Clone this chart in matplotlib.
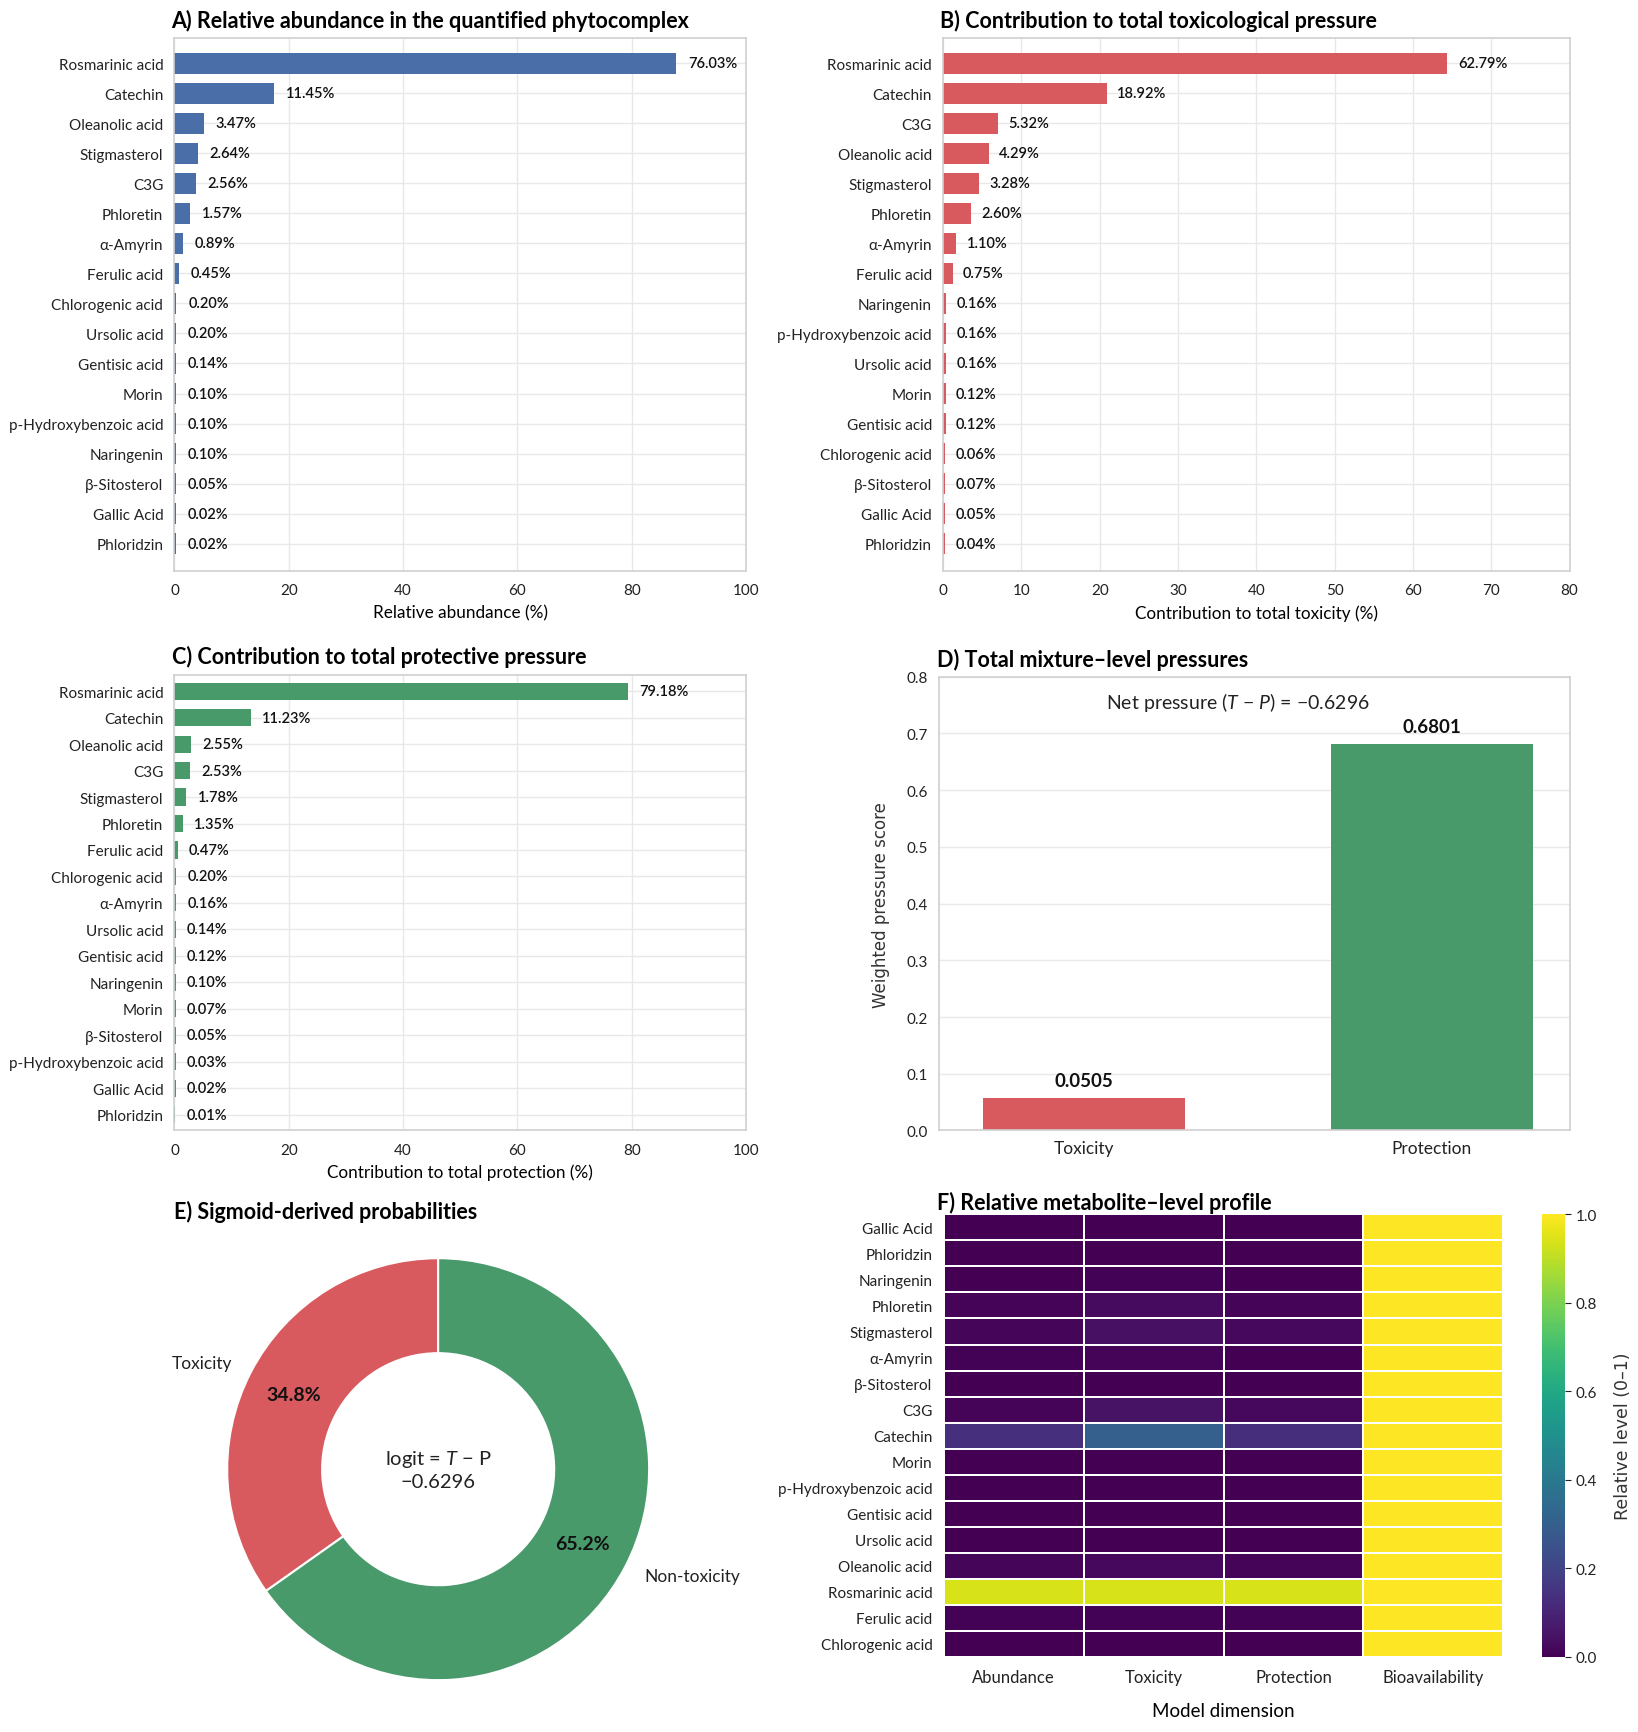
import matplotlib
matplotlib.use("Agg")
import matplotlib.pyplot as plt
import numpy as np

plt.rcParams['font.family'] = ['Lato', 'DejaVu Sans']
plt.rcParams['mathtext.fontset'] = 'custom'
plt.rcParams['mathtext.rm'] = 'Lato'
plt.rcParams['mathtext.it'] = 'Lato:italic'
plt.rcParams['axes.unicode_minus'] = True

# ---- data ----
abund_names = ['Rosmarinic acid', 'Catechin', 'Oleanolic acid', 'Stigmasterol', 'C3G', 'Phloretin',
               'α-Amyrin', 'Ferulic acid', 'Chlorogenic acid', 'Ursolic acid', 'Gentisic acid', 'Morin',
               'p-Hydroxybenzoic acid', 'Naringenin', 'β-Sitosterol', 'Gallic Acid', 'Phloridzin']
abund_bar = [87.8, 17.5, 5.15, 4.06, 3.73, 2.8, 1.54, 0.77, 0.35, 0.32, 0.3, 0.28, 0.28, 0.28, 0.25, 0.22, 0.22]
abund_lab = ['76.03%', '11.45%', '3.47%', '2.64%', '2.56%', '1.57%', '0.89%', '0.45%', '0.20%', '0.20%',
             '0.14%', '0.10%', '0.10%', '0.10%', '0.05%', '0.02%', '0.02%']

tox_names = ['Rosmarinic acid', 'Catechin', 'C3G', 'Oleanolic acid', 'Stigmasterol', 'Phloretin',
             'α-Amyrin', 'Ferulic acid', 'Naringenin', 'p-Hydroxybenzoic acid', 'Ursolic acid', 'Morin',
             'Gentisic acid', 'Chlorogenic acid', 'β-Sitosterol', 'Gallic Acid', 'Phloridzin']
tox_bar = [64.4, 20.9, 7.05, 5.8, 4.6, 3.6, 1.65, 1.2, 0.35, 0.35, 0.35, 0.3, 0.3, 0.25, 0.25, 0.22, 0.2]
tox_lab = ['62.79%', '18.92%', '5.32%', '4.29%', '3.28%', '2.60%', '1.10%', '0.75%', '0.16%', '0.16%',
           '0.16%', '0.12%', '0.12%', '0.06%', '0.07%', '0.05%', '0.04%']

prot_names = ['Rosmarinic acid', 'Catechin', 'Oleanolic acid', 'C3G', 'Stigmasterol', 'Phloretin',
              'Ferulic acid', 'Chlorogenic acid', 'α-Amyrin', 'Ursolic acid', 'Gentisic acid', 'Naringenin',
              'Morin', 'β-Sitosterol', 'p-Hydroxybenzoic acid', 'Gallic Acid', 'Phloridzin']
prot_bar = [79.4, 13.4, 2.9, 2.8, 2.1, 1.5, 0.58, 0.3, 0.28, 0.27, 0.26, 0.25, 0.24, 0.22, 0.2, 0.2, 0.18]
prot_lab = ['79.18%', '11.23%', '2.55%', '2.53%', '1.78%', '1.35%', '0.47%', '0.20%', '0.16%', '0.14%',
            '0.12%', '0.10%', '0.07%', '0.05%', '0.03%', '0.02%', '0.01%']

press_cats = ['Toxicity', 'Protection']
press_vals = [0.0565, 0.681]
press_labs = ['0.0505', '0.6801']
net_pressure = '−0.6296'

donut_labels = ['Toxicity', 'Non-toxicity']
donut_vals = [34.8, 65.2]

heat_rows = ['Gallic Acid', 'Phloridzin', 'Naringenin', 'Phloretin', 'Stigmasterol', 'α-Amyrin',
             'β-Sitosterol', 'C3G', 'Catechin', 'Morin', 'p-Hydroxybenzoic acid', 'Gentisic acid',
             'Ursolic acid', 'Oleanolic acid', 'Rosmarinic acid', 'Ferulic acid', 'Chlorogenic acid']
heat_cols = ['Abundance', 'Toxicity', 'Protection', 'Bioavailability']
heat_abund = [0.0, 0.0, 0.0, 0.01, 0.015, 0.005, 0.0, 0.01, 0.14, 0.0, 0.0, 0.0, 0.0, 0.015, 0.94, 0.005, 0.0]
heat_tox = [0.0, 0.0, 0.005, 0.03, 0.04, 0.01, 0.0, 0.05, 0.30, 0.0, 0.0, 0.0, 0.0, 0.02, 0.94, 0.005, 0.0]
heat_prot = [0.0, 0.0, 0.0, 0.01, 0.02, 0.0, 0.0, 0.02, 0.13, 0.0, 0.0, 0.0, 0.0, 0.01, 0.94, 0.005, 0.0]
heat_bio = [1.0] * 17

BLUE = '#4a6fa8'
RED = '#d95a5e'
GREEN = '#489a6b'
SPINE = '#d0d0d0'
GRID = '#e8e8e8'
TITLE_FS = 15.5

fig = plt.figure(figsize=(16.38, 17.33), dpi=100)


def style_frame(ax):
    for s in ax.spines.values():
        s.set_color(SPINE)
        s.set_linewidth(1.2)
    ax.set_axisbelow(True)
    ax.tick_params(length=0, labelsize=11, colors='#222222')


def hbar_panel(rect, names, vals, labs, color, xmax, xticks, xlabel, title, ylim, bh, pad):
    ax = fig.add_axes(rect)
    y = np.arange(len(names))
    ax.barh(y, vals, height=bh, color=color)
    for yi, v, t in zip(y, vals, labs):
        ax.annotate(t, (v, yi), xytext=(pad, 0), textcoords='offset points',
                    va='center', ha='left', fontsize=10.5, fontweight='semibold', color='#111111')
    ax.set_yticks(y)
    ax.set_yticklabels(names)
    ax.set_ylim(*ylim)
    ax.set_xlim(0, xmax)
    ax.set_xticks(xticks)
    ax.grid(True, color=GRID, linewidth=1)
    style_frame(ax)
    ax.tick_params(axis='y', pad=8)
    ax.tick_params(axis='x', pad=9)
    ax.set_xlabel(xlabel, fontsize=12.3, labelpad=5)
    ax.set_title(title, loc='left', fontsize=TITLE_FS, fontweight='bold', pad=8, x=-0.005)
    return ax


# A
hbar_panel([0.1065, 0.6701, 0.3490, 0.3076], abund_names, abund_bar, abund_lab, BLUE, 100,
           [0, 20, 40, 60, 80, 100], 'Relative abundance (%)',
           'A) Relative abundance in the quantified phytocomplex', (16.9, -0.85), 0.7, 8.5)
# B
hbar_panel([0.5758, 0.6701, 0.3824, 0.3076], tox_names, tox_bar, tox_lab, RED, 80,
           list(range(0, 81, 10)), 'Contribution to total toxicity (%)',
           'B) Contribution to total toxicological pressure', (16.9, -0.85), 0.7, 7.5)
# C
hbar_panel([0.1065, 0.3471, 0.3490, 0.2631], prot_names, prot_bar, prot_lab, GREEN, 100,
           [0, 20, 40, 60, 80, 100], 'Contribution to total protection (%)',
           'C) Contribution to total protective pressure', (16.6, -0.63), 0.65, 8)

# D
axd = fig.add_axes([0.5734, 0.3471, 0.3848, 0.2618])
xd = np.arange(len(press_cats))
axd.bar(xd, press_vals, width=0.58, color=[RED, GREEN])
for xi, v, t in zip(xd, press_vals, press_labs):
    axd.annotate(t, (xi, v), xytext=(0, 7), textcoords='offset points', ha='center', va='bottom',
                 fontsize=13.5, fontweight='bold', color='#111111')
axd.set_xticks(xd)
axd.set_xticklabels(press_cats)
axd.set_xlim(-0.415, 1.395)
axd.set_ylim(0, 0.8)
axd.set_yticks(np.arange(0, 0.81, 0.1))
axd.set_yticklabels(['%.1f' % t for t in np.arange(0, 0.81, 0.1)])
axd.grid(True, axis='y', color=GRID, linewidth=1)
style_frame(axd)
axd.tick_params(axis='y', pad=8)
axd.tick_params(axis='x', pad=7, labelsize=12.5)
axd.set_ylabel('Weighted pressure score', family='DejaVu Sans', fontsize=12, labelpad=12, color='#333333')
axd.text(0.4746, 0.946, 'Net pressure ($T$ − $P$) = ' + net_pressure, transform=axd.transAxes,
         ha='center', va='center', fontsize=14, color='#222222')
axd.set_title('D) Total mixture–level pressures', loc='left', fontsize=TITLE_FS, fontweight='bold', pad=8,
              x=-0.004)

# E
axe = fig.add_axes([0.0743, -0.031, 0.3864, 0.3653])
wedges, texts, autotexts = axe.pie(donut_vals, labels=donut_labels, colors=[RED, GREEN], startangle=90,
                                   counterclock=True, autopct='%.1f%%', pctdistance=0.77,
                                   wedgeprops=dict(width=0.45, edgecolor='white', linewidth=1.5),
                                   textprops=dict(fontsize=12.5, color='#222222'))
for t in autotexts:
    t.set_fontweight('bold')
    t.set_fontsize(14)
    t.set_color('#111111')
axe.text(0, 0, 'logit = $T$ − P\n' + net_pressure, ha='center', va='center', fontsize=14.5,
         color='#222222', linespacing=1.3)
axe.set_xlim(-1.5, 1.5)
axe.set_ylim(-1.5, 1.5)
axe.set_aspect('equal')
fig.text(0.1065, 0.3006, 'E) Sigmoid-derived probabilities', fontsize=TITLE_FS, fontweight='bold',
         ha='left', va='center')

# F
heat = np.column_stack([heat_abund, heat_tox, heat_prot, heat_bio])
axf = fig.add_axes([0.5761, 0.0433, 0.3417, 0.2554])
mesh = axf.pcolormesh(heat, cmap='viridis', vmin=0, vmax=1, edgecolors='white', linewidth=1.2)
axf.set_xlim(0, len(heat_cols))
axf.set_ylim(len(heat_rows), 0)
axf.set_xticks(np.arange(len(heat_cols)) + 0.5)
axf.set_xticklabels(heat_cols)
axf.set_yticks(np.arange(len(heat_rows)) + 0.5)
axf.set_yticklabels(heat_rows)
for s in axf.spines.values():
    s.set_visible(False)
axf.tick_params(length=0, labelsize=11, colors='#222222')
axf.tick_params(axis='x', labelsize=12, pad=9)
axf.tick_params(axis='y', pad=8)
axf.set_xlabel('Model dimension', fontsize=13.5, labelpad=12)
axf.set_title('F) Relative metabolite–level profile', loc='left', fontsize=TITLE_FS, fontweight='bold', pad=4,
              x=-0.012)

cax = fig.add_axes([0.9414, 0.0433, 0.0142, 0.2554])
cb = fig.colorbar(mesh, cax=cax)
cb.outline.set_visible(False)
cb.set_ticks([0, 0.2, 0.4, 0.6, 0.8, 1.0])
cb.ax.tick_params(labelsize=11, length=4, width=0.8, colors='#222222')
cb.ax.set_yticklabels(['0.0', '0.2', '0.4', '0.6', '0.8', '1.0'])
cb.set_label('Relative level (0–1)', family='DejaVu Sans', fontsize=12.5, labelpad=12, color='#333333')

fig.savefig('out.png', dpi=100, facecolor='white')
